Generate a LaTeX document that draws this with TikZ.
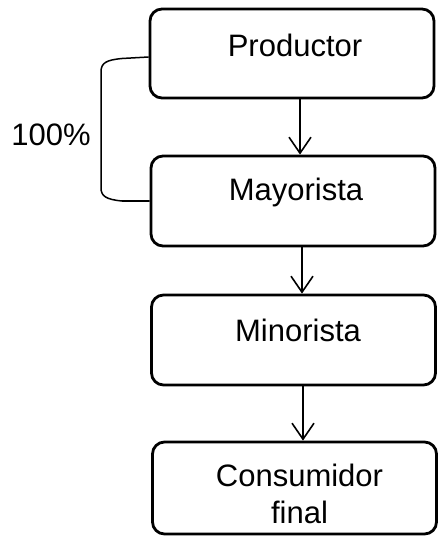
\documentclass[tikz,border=0pt]{standalone}
\usepackage{fontspec}
\setmainfont{Liberation Sans}
\usetikzlibrary{arrows.meta,calc}
\tikzset{
  box/.style={draw, line width=2.8pt, rounded corners=12pt, minimum width=284pt, inner sep=0pt},
  lbl/.style={font=\fontsize{31}{37}\selectfont, inner sep=0pt, align=center},
  arr/.style={line width=1.6pt, -{Straight Barb[length=16pt,width=22pt,line width=1.6pt]}},
  brk/.style={line width=1.5pt}
}
\begin{document}
\begin{tikzpicture}[x=1pt,y=-1pt]
\useasboundingbox (0,0) rectangle (437,537);
% boxes
\node[box, minimum height=89pt] (p) at (292,53.5) {};
\node[box, minimum height=90pt] (m) at (293,201) {};
\node[box, minimum height=90pt] (n) at (293.5,340) {};
\node[box, minimum height=92pt] (c) at (294.5,488) {};
% labels
\node[lbl] (pt) at (295,45) {Productor};
\node[lbl] (mt) at (296,192) {Mayorista};
\node[lbl] (nt) at (298,330) {Minorista};
\node[lbl] (ct) at (299.5,494) {Consumidor\\final};
\node[lbl] (pct) at (51,135) {100\%};
% arrows
\draw[arr] ([xshift=8pt]p.south) -- ([xshift=7pt]m.north);
\draw[arr] ([xshift=9pt]m.south) -- ([xshift=8.5pt]n.north);
\draw[arr] ([xshift=9.5pt]n.south) -- ([xshift=8.5pt]c.north);
% bracket
\draw[brk] ([yshift=-3.5pt]p.west) -- (122,58.5) .. controls (106,60) and (101,63) .. (101,72) -- (101,188) .. controls (101,196) and (106,199.5) .. (122,201) -- (m.west);
\end{tikzpicture}
\end{document}
